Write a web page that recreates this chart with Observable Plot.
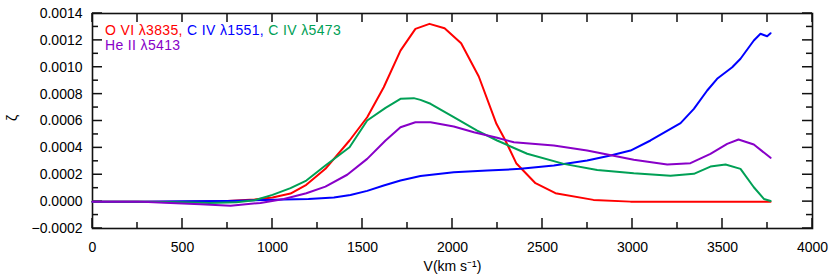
<!DOCTYPE html>
<html>
<head>
<meta charset="utf-8">
<script src="https://cdn.jsdelivr.net/npm/d3@7"></script>
<script src="https://cdn.jsdelivr.net/npm/@observablehq/plot@0.6"></script>
<style>
  html, body { margin: 0; padding: 0; background: #fff; }
</style>
</head>
<body>
<div id="chart"></div>
<script>
// ---- data ----
const seriesNames = ["O VI λ3835", "C IV λ1551", "C IV λ5473", "He II λ5413"];
const seriesColors = ["#ff0000", "#0000ff", "#00a055", "#8800c8"];

const oviV = [0, 250, 500, 750, 900, 1000, 1100, 1188, 1294, 1428, 1526, 1618, 1711, 1794, 1872, 1956, 2048, 2146, 2244, 2294, 2354, 2461, 2572, 2783, 2989, 3767];
const oviZ = [0, 0, 0, 0.000005, 0.000015, 0.00003, 0.00006, 0.000125, 0.000244, 0.000455, 0.000628, 0.000851, 0.001124, 0.001286, 0.001323, 0.00129, 0.001179, 0.000931, 0.000579, 0.000455, 0.000286, 0.000137, 0.0000625, 0.000013, 0, 0];

const civ1551V = [0, 250, 500, 750, 900, 1063, 1200, 1341, 1433, 1526, 1618, 1711, 1822, 2007, 2193, 2378, 2563, 2748, 2878, 2989, 3100, 3267, 3341, 3415, 3470, 3554, 3600, 3674, 3711, 3748, 3767];
const civ1551Z = [0, 0, 0.000002, 0.000005, 0.00001, 0.000015, 0.00002, 0.00003, 0.00005, 0.00008, 0.00012, 0.000157, 0.00019, 0.000219, 0.000231, 0.000244, 0.000269, 0.000306, 0.000343, 0.00038, 0.000455, 0.000584, 0.00069, 0.000827, 0.000914, 0.001, 0.001063, 0.001199, 0.001249, 0.001231, 0.001253];

const civ5473V = [0, 250, 500, 650, 800, 900, 1000, 1100, 1188, 1294, 1428, 1526, 1628, 1711, 1785, 1822, 1878, 2007, 2137, 2248, 2415, 2618, 2804, 3007, 3211, 3341, 3433, 3517, 3600, 3674, 3730, 3767];
const civ5473Z = [0, 0, -0.000005, -0.00001, -0.000005, 0.00001, 0.00005, 0.0001, 0.000157, 0.000269, 0.000405, 0.000604, 0.000698, 0.000765, 0.00077, 0.000757, 0.000728, 0.000628, 0.000529, 0.000455, 0.000356, 0.000281, 0.000236, 0.000211, 0.000192, 0.000207, 0.000261, 0.000276, 0.000244, 0.000107, 0.00002, 0.000005];

const heiiV = [0, 250, 400, 600, 767, 933, 1063, 1188, 1294, 1415, 1526, 1628, 1711, 1794, 1878, 2007, 2119, 2248, 2341, 2563, 2748, 3007, 3193, 3322, 3433, 3526, 3589, 3674, 3767];
const heiiZ = [0, 0, -0.000008, -0.00002, -0.00003, -0.00001, 0.00002, 0.0000625, 0.000112, 0.0002, 0.000318, 0.000455, 0.000554, 0.000591, 0.000591, 0.000559, 0.000516, 0.000475, 0.000442, 0.000417, 0.00038, 0.000311, 0.000276, 0.000286, 0.000356, 0.00043, 0.000462, 0.000425, 0.000326];

const xTicks = [0, 500, 1000, 1500, 2000, 2500, 3000, 3500, 4000];
const xMinorTicks = [250, 750, 1250, 1750, 2250, 2750, 3250, 3750];
const yTicks = [-0.0002, 0, 0.0002, 0.0004, 0.0006, 0.0008, 0.0010, 0.0012, 0.0014];
const yMinorTicks = [-0.0001, 0.0001, 0.0003, 0.0005, 0.0007, 0.0009, 0.0011, 0.0013];
const xLabel = "V(km s⁻¹)";
const yLabel = "ζ";

// ---- layout ----
const W = 831, H = 279, mL = 92, mR = 19, mT = 13, mB = 51;
const fw = W - mL - mR, fh = H - mT - mB;
const xDom = [0, 4000], yDom = [-0.0002, 0.0014];
const major = 10, minor = 6, topLen = 9, tickW = 1.5; // tick sizes in px
// convert pixel tick sizes into data units
const pxX = (xDom[1] - xDom[0]) / fw;
const pxY = (yDom[1] - yDom[0]) / fh;

// ---- build table ----
const table = [];
[[oviV, oviZ], [civ1551V, civ1551Z], [civ5473V, civ5473Z], [heiiV, heiiZ]].forEach(([vs, zs], i) => {
  vs.forEach((v, j) => table.push({series: seriesNames[i], v, z: zs[j]}));
});
const allXTicks = [...xTicks, ...xMinorTicks].sort((a, b) => a - b);

const fmtY = d => (Math.abs(d) < 1e-12 ? 0 : d).toFixed(4).replace("-", "−");
const font = "'Liberation Sans', Arial, Helvetica, sans-serif";

// inward tick marks drawn as thin filled rects
const vTicks = (data, yEdge, len) => Plot.rect(data, {
  x1: d => d - tickW / 2 * pxX, x2: d => d + tickW / 2 * pxX,
  y1: yEdge, y2: yEdge + len * pxY, fill: "#111"
});
const hTicks = (data, xEdge, len) => Plot.rect(data, {
  y1: d => d - tickW / 2 * pxY, y2: d => d + tickW / 2 * pxY,
  x1: xEdge, x2: xEdge + len * pxX, fill: "#111"
});

const svg = Plot.plot({
  width: W,
  height: H,
  marginLeft: mL,
  marginRight: mR,
  marginTop: mT,
  marginBottom: mB,
  style: {fontFamily: font, fontSize: "14px", color: "#000", background: "#fff"},
  x: {domain: xDom},
  y: {domain: yDom},
  color: {domain: seriesNames, range: seriesColors},
  marks: [
    Plot.frame({stroke: "#111", strokeWidth: 1.6, fill: "none"}),
    Plot.axisX({anchor: "bottom", ticks: xTicks, tickSize: 0, tickPadding: 14, tickFormat: d => String(d), label: null}),
    Plot.axisY({anchor: "left", ticks: yTicks, tickSize: 0, tickPadding: 10, tickFormat: fmtY, label: null}),
    vTicks(xTicks, yDom[0], major),
    vTicks(xMinorTicks, yDom[0], minor),
    vTicks(allXTicks, yDom[1], -topLen),
    hTicks(yTicks, xDom[0], major),
    hTicks(yMinorTicks, xDom[0], minor),
    hTicks(yTicks, xDom[1], -major),
    hTicks(yMinorTicks, xDom[1], -minor),
    Plot.line(table, {x: "v", y: "z", z: "series", stroke: "series", strokeWidth: 2}),
    Plot.text([xLabel], {frameAnchor: "bottom", dy: 38, lineAnchor: "middle", fill: "#000", fontSize: 14}),
    Plot.text([yLabel], {frameAnchor: "left", dx: -80, rotate: -90, lineAnchor: "middle", fill: "#000", fontSize: 14})
  ]
});

// copy group-level stroke/fill styles onto the drawn elements
d3.select(svg).selectAll("g").each(function() {
  const g = this;
  ["stroke", "stroke-width", "fill"].forEach(a => {
    const v = g.getAttribute(a);
    if (v == null) return;
    for (const c of g.children) {
      if ((c.tagName === "path" || c.tagName === "rect" || c.tagName === "line") && !c.getAttribute(a)) c.setAttribute(a, v);
    }
  });
});

// legend inside the plot, as real text with coloured pieces
const sel = d3.select(svg);
const legendLines = [[0, 1, 2], [3]];
legendLines.forEach((idxs, li) => {
  const t = sel.append("text")
    .attr("x", 105)
    .attr("y", 35 + li * 15)
    .attr("text-anchor", "start")
    .attr("font-family", font)
    .attr("font-size", 14)
    .attr("letter-spacing", 0.35);
  idxs.forEach((i, k) => {
    const notLast = k < idxs.length - 1;
    t.append("tspan").attr("fill", seriesColors[i]).text(seriesNames[i] + (notLast ? ", " : ""));
  });
});

document.getElementById("chart").appendChild(svg);
</script>
</body>
</html>
